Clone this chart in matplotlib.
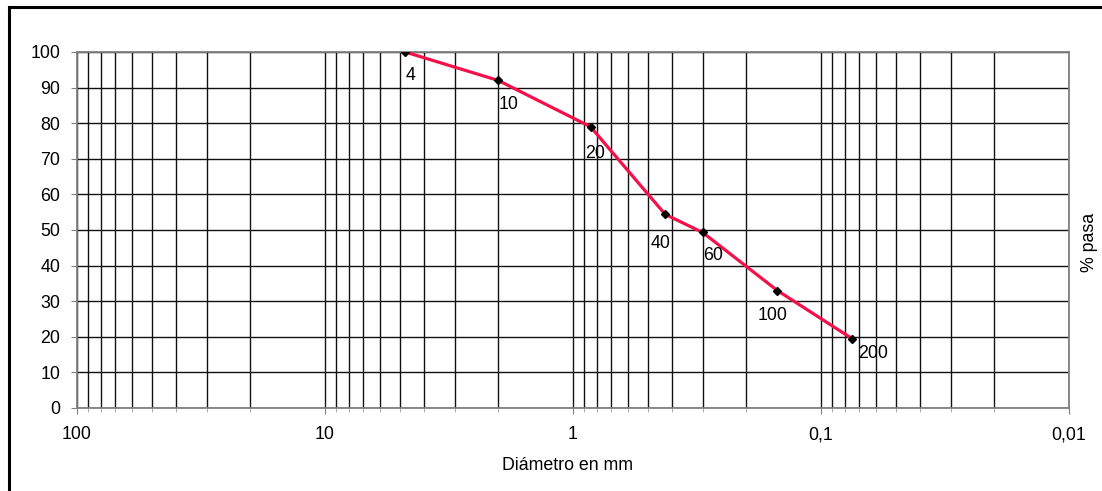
import matplotlib
matplotlib.use("Agg")
import matplotlib.pyplot as plt
from matplotlib.ticker import LogLocator, FixedLocator, NullFormatter
from matplotlib.lines import Line2D

plt.rcParams['font.family'] = ['Liberation Sans', 'DejaVu Sans']

# Data
sieves = ["4", "10", "20", "40", "60", "100", "200"]
diameters = [4.75, 2.0, 0.85, 0.425, 0.30, 0.15, 0.075]
pct_pass = [100, 92, 79, 54.4, 49.3, 33.0, 19.5]
xtick_vals = [100, 10, 1, 0.1, 0.01]
xtick_labels = ["100", "10", "1", "0,1", "0,01"]
ytick_vals = list(range(0, 101, 10))

# label offsets in pixels (style)
label_offsets = [(0, -23), (0, -24), (-5, -27), (-15, -29), (0, -23), (-20, -25), (6, -15)]

W, H = 1102, 491
FS = 12.8
fig = plt.figure(figsize=(W / 100, H / 100), dpi=100)
fig.patch.set_facecolor('white')
ax = fig.add_axes([77 / W, 1 - 408 / H, (1069 - 77) / W, (408 - 52) / H])

ax.set_xscale('log')
ax.set_xlim(100, 0.01)
ax.set_ylim(0, 100)

ax.set_xticks(xtick_vals)
ax.set_xticklabels(xtick_labels)
ax.xaxis.set_minor_locator(LogLocator(base=10, subs=range(2, 10), numticks=20))
ax.xaxis.set_minor_formatter(NullFormatter())
ax.set_yticks(ytick_vals)

ax.grid(True, which='both', axis='x', color='#111111', linewidth=1.0)
ax.grid(True, which='major', axis='y', color='#111111', linewidth=1.0)
ax.set_axisbelow(True)

for s in ax.spines.values():
    s.set_color('#808080')
    s.set_linewidth(1.3)

ax.tick_params(axis='both', which='major', direction='out', length=4, color='#808080',
               labelsize=FS, labelcolor='black')
ax.tick_params(axis='y', which='major', pad=8)
ax.tick_params(axis='x', which='minor', direction='out', length=3, color='#a0a0a0')
ax.tick_params(axis='x', which='major', pad=9)

ax.plot(diameters, pct_pass, color='#F5104A', linewidth=2.3, zorder=3)
ax.plot(diameters, pct_pass, linestyle='none', marker='D', markersize=4.5,
        color='black', zorder=4)

for name, x, y, (dx, dy) in zip(sieves, diameters, pct_pass, label_offsets):
    ax.annotate(name, (x, y), xytext=(dx, dy), textcoords='offset pixels',
                ha='left', va='center', fontsize=FS, color='black', zorder=5)

fig.text(567 / W, 1 - 466 / H, "Diámetro en mm", ha='center', va='center', fontsize=FS)
fig.text(1090 / W, 1 - 242 / H, "% pasa", rotation=90, ha='center', va='center', fontsize=FS)

# outer border (top and left)
fig.add_artist(Line2D([9 / W, 9 / W], [0, 1 - 7 / H], transform=fig.transFigure,
                      color='black', linewidth=2.2))
fig.add_artist(Line2D([9 / W, 1.0], [1 - 7 / H, 1 - 7 / H], transform=fig.transFigure,
                      color='black', linewidth=2.2))

fig.savefig("out.png", dpi=100, facecolor='white')
